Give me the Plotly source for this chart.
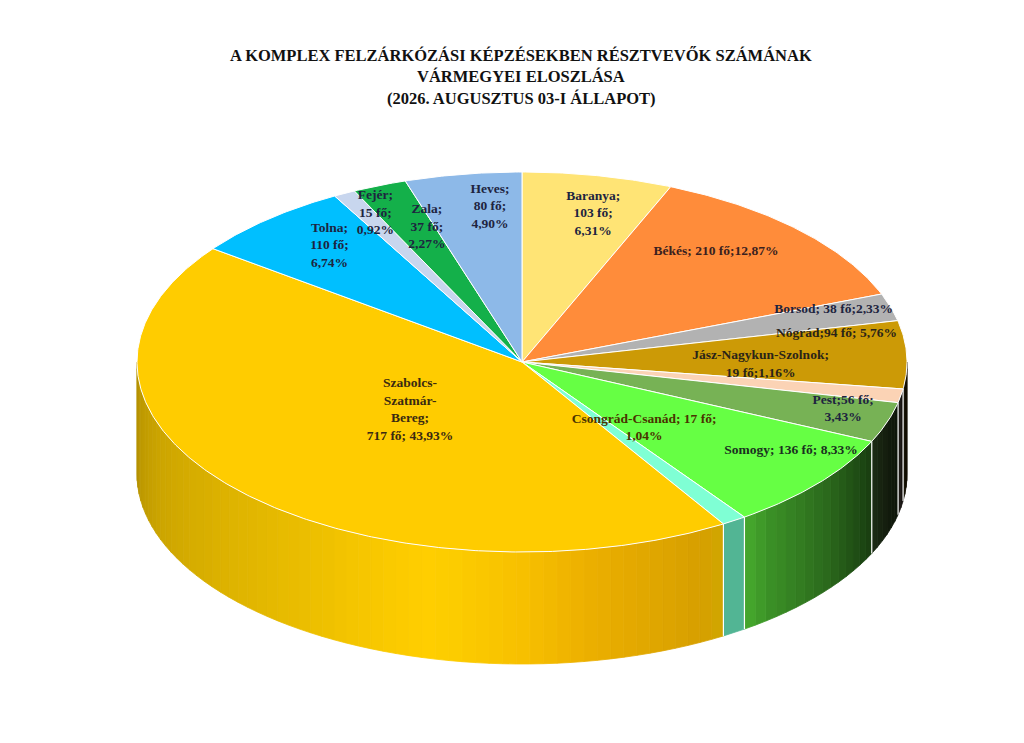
"""3D-looking pie of the county distribution of participants (Plotly)."""

import numpy as np
import plotly.graph_objects as go

# Data, clockwise from 12 o'clock
counties = ["Baranya", "Békés", "Borsod", "Nógrád", "Jász-Nagykun-Szolnok",
            "Pest", "Somogy", "Csongrád-Csanád", "Szabolcs-Szatmár-Bereg",
            "Tolna", "Fejér", "Zala", "Heves"]
participants = [103, 210, 38, 94, 19, 56, 136, 17, 717, 110, 15, 37, 80]

# Label text as the chart writes it ({v} = count, {p} = percent)
label_templates = [
    "Baranya;<br>{v} fő;<br>{p}",
    "Békés; {v} fő;{p}",
    "Borsod; {v} fő;{p}",
    "Nógrád;{v} fő; {p}",
    "Jász-Nagykun-Szolnok;<br>{v} fő;{p}",
    "Pest;{v} fő;<br>{p}",
    "Somogy; {v} fő; {p}",
    "Csongrád-Csanád; {v} fő;<br>{p}",
    "Szabolcs-<br>Szatmár-<br>Bereg;<br>{v} fő; {p}",
    "Tolna;<br>{v} fő;<br>{p}",
    "Fejér;<br>{v} fő;<br>{p}",
    "Zala;<br>{v} fő;<br>{p}",
    "Heves;<br>{v} fő;<br>{p}",
]

title_lines = ["A KOMPLEX FELZÁRKÓZÁSI KÉPZÉSEKBEN RÉSZTVEVŐK SZÁMÁNAK",
               "VÁRMEGYEI ELOSZLÁSA",
               "(2026. AUGUSZTUS 03-I ÁLLAPOT)"]

# ---- styling ----
top_colors = ["#FFE475", "#FF8C3A", "#B2B2B2", "#CC9A06", "#FBD3B5", "#77B255",
              "#66FF44", "#7FFFD4", "#FFCC00", "#00BFFF", "#C8D6EE", "#14B04A",
              "#8DB9E8"]
side_colors = ["#FFE475", "#FF8C3A", "#B2B2B2", "#CC9A06", "#FBD3B5", "#77B255",
               "#62F040", "#6CF0C4", "#FFCE00", "#00BFFF", "#C8D6EE", "#14B04A",
               "#8DB9E8"]
label_colors = ["#1e2440", "#3a1f1f", "#1e2440", "#2a2418", "#2a2418", "#1e2440",
                "#1a3020", "#4a3300", "#3a2a12", "#1e2440", "#1e2440", "#1e2440",
                "#1e2440"]
label_r = [0.80, 0.77, 0.855, 0.83, 0.62, 0.87, 0.84, 0.47, 0.385, 0.79, 0.87,
           0.75, 0.82]
label_dtheta = [2, -5, -2, -8, -9, -2, -6, -9, 1.5, 2, 1.5, 2.5, 3]

cx, cy, rx, ry, depth = 522, 362, 385, 190, 112
font_name = "Liberation Serif"
page_margin = 8   # the browser's default body margin


def hex_rgb(h):
    h = h.lstrip("#")
    return [int(h[i:i + 2], 16) for i in (0, 2, 4)]


def shade(hex_color, f, warm=0.0):
    r, g, b = hex_rgb(hex_color)
    g = g * (1 - warm)          # a touch more orange in the darker gold
    r, g, b = [min(255, int(round(c * f))) for c in (r, g, b)]
    return f"rgb({r},{g},{b})"


def ell(theta_deg, dy=0.0, r=1.0):
    t = np.radians(theta_deg)
    return cx + rx * r * np.sin(t), cy - ry * r * np.cos(t) + dy


def arc(a, b):
    n = max(2, int(abs(b - a) / 0.5) + 1)
    return np.linspace(a, b, n)


def light(theta):
    # brightness of the side wall depending on where it faces
    return np.interp(theta,
                     [90, 100, 108, 115, 125, 140, 145, 150, 165, 180, 195, 220, 250, 270],
                     [0.08, 0.1, 0.15, 0.25, 0.4, 0.6, 0.72, 0.83, 0.9, 0.97, 1.0, 0.9, 0.8, 0.7])


total = sum(participants)
ends = np.cumsum(participants) / total * 360.0
starts = np.concatenate([[0.0], ends[:-1]])

fig = go.Figure()

# Side walls (front half only), drawn as narrow strips for the shading
for i in range(len(participants)):
    a, b = max(starts[i], 90.0), min(ends[i], 270.0)
    if b <= a:
        continue
    n_strips = max(1, int((b - a) / 2.0))
    edges = np.linspace(a, b, n_strips + 1)
    for s, e in zip(edges[:-1], edges[1:]):
        t = arc(s, e)
        xt, yt = ell(t)
        xb, yb = ell(t[::-1], dy=depth)
        m = (s + e) / 2
        warm = 0.08 * np.interp(m, [148.5, 152, 170, 190], [0, 1, 1, 0])
        col = shade(side_colors[i], light(m), warm)
        fig.add_trace(go.Scatter(
            x=np.concatenate([xt, xb, xt[:1]]), y=np.concatenate([yt, yb, yt[:1]]),
            mode="lines", fill="toself", fillcolor=col,
            line=dict(color=col, width=0.8), hoverinfo="skip"))

# White seams between walls
for th in starts:
    if 90 < th < 270:
        x0, y0 = ell(th)
        x1, y1 = ell(th, dy=depth)
        fig.add_trace(go.Scatter(x=[x0, x1], y=[y0, y1], mode="lines",
                                 line=dict(color="white", width=1.2),
                                 hoverinfo="skip"))

# Top faces
for i in range(len(participants)):
    t = arc(starts[i], ends[i])
    xs, ys = ell(t)
    fig.add_trace(go.Scatter(
        x=np.concatenate([[cx], xs, [cx]]), y=np.concatenate([[cy], ys, [cy]]),
        mode="lines", fill="toself", fillcolor=top_colors[i],
        line=dict(color="white", width=1), name=counties[i],
        hovertemplate=f"{counties[i]}: {participants[i]} fő<extra></extra>"))

# Data labels
mids = (starts + ends) / 2
lx, ly, texts = [], [], []
for i, v in enumerate(participants):
    pct = f"{v / total * 100:.2f}%".replace(".", ",")
    x, y = ell(mids[i] + label_dtheta[i], r=label_r[i])
    lx.append(x)
    ly.append(y)
    texts.append("<b>" + label_templates[i].format(v=v, p=pct) + "</b>")

fig.add_trace(go.Scatter(
    x=lx, y=ly, mode="text", text=texts, textposition="middle center",
    textfont=dict(family=font_name, size=13.5, color=label_colors),
    hoverinfo="skip"))

# Title, one annotation per line
for k, line in enumerate(title_lines):
    fig.add_annotation(x=521, y=55 + k * 21.5, xref="x", yref="y",
                       text=f"<b>{line}</b>", showarrow=False,
                       font=dict(family=font_name, size=16.5, color="#111111"))

fig.update_layout(
    width=1024 - 2 * page_margin, height=743 - 2 * page_margin,
    margin=dict(l=0, r=0, t=0, b=0),
    paper_bgcolor="white", plot_bgcolor="white", showlegend=False,
    xaxis=dict(range=[page_margin, 1024 - page_margin], visible=False, fixedrange=True),
    yaxis=dict(range=[743 - page_margin, page_margin], visible=False, fixedrange=True),
)

fig.write_html("out.html")
